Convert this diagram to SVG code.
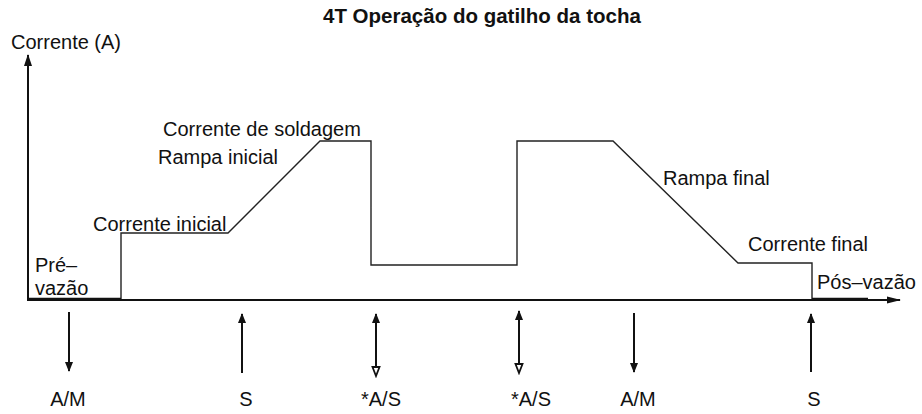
<svg xmlns="http://www.w3.org/2000/svg" width="922" height="414" viewBox="0 0 922 414">
  <defs>
    <marker id="ah" markerWidth="10" markerHeight="10" refX="9" refY="5" orient="auto-start-reverse" markerUnits="userSpaceOnUse">
      <path d="M0,1 L10,5 L0,9 Z" fill="#111"/>
    </marker>
    <marker id="aho" markerWidth="12" markerHeight="12" refX="10" refY="6" orient="auto" markerUnits="userSpaceOnUse">
      <path d="M1,2.5 L10,6 L1,9.5 Z" fill="#fff" stroke="#111" stroke-width="1.8"/>
    </marker>
    <marker id="axh" markerWidth="14" markerHeight="10" refX="13" refY="5" orient="auto" markerUnits="userSpaceOnUse">
      <path d="M0,1.5 L14,5 L0,8.5 Z" fill="#111"/>
    </marker>
    <marker id="ahup" markerWidth="12" markerHeight="10" refX="11" refY="5" orient="auto" markerUnits="userSpaceOnUse">
      <path d="M0,1 L12,5 L0,9 Z" fill="#111"/>
    </marker>
  </defs>
  <style>
    text { font-family: "Liberation Sans", Arial, sans-serif; font-size: 20px; fill: #111; }
    .title { font-weight: bold; font-size: 20.5px; }
    .lbl { text-anchor: middle; }
    .axis { stroke: #111; stroke-width: 2; fill: none; }
    .wave { stroke: #222; stroke-width: 1.4; fill: none; }
    .base { stroke: #111; stroke-width: 2.5; fill: none; }
    .trig { stroke: #111; stroke-width: 2; fill: none; }
  </style>
  <rect width="922" height="414" fill="#fff"/>

  <g id="title"><text class="title" x="323" y="23">4T Operação do gatilho da tocha</text></g>

  <g id="axes">
    <line class="axis" x1="28" y1="301" x2="28" y2="55" marker-end="url(#ahup)"/>
    <line class="axis" x1="27" y1="300" x2="900" y2="300" marker-end="url(#axh)"/>
    <text x="11" y="49">Corrente (A)</text>
  </g>

  <g id="waveform">
    <path class="wave" d="M121,299 V233 H228 L320,141 H371 V265 H517 V141 H613 L738,263 H812 V299"/>
    <line class="base" x1="28" y1="299" x2="121" y2="299"/>
    <line class="base" x1="812" y1="299" x2="868" y2="299"/>
  </g>

  <g id="labels">
    <text x="35" y="272">Pré–</text>
    <text x="35" y="295">vazão</text>
    <text x="93" y="231">Corrente inicial</text>
    <text x="158" y="164">Rampa inicial</text>
    <text x="163" y="136">Corrente de soldagem</text>
    <text x="663" y="185">Rampa final</text>
    <text x="748" y="251">Corrente final</text>
    <text x="817" y="289">Pós–vazão</text>
  </g>

  <g id="connectors">
    <line class="trig" x1="69" y1="312" x2="69" y2="371" marker-end="url(#ah)"/>
    <line class="trig" x1="242" y1="373" x2="242" y2="314" marker-end="url(#ah)"/>
    <line class="trig" x1="376" y1="314" x2="376" y2="376" marker-start="url(#ah)" marker-end="url(#aho)"/>
    <line class="trig" x1="519" y1="311" x2="519" y2="373" marker-start="url(#ah)" marker-end="url(#aho)"/>
    <line class="trig" x1="634" y1="313" x2="634" y2="372" marker-end="url(#ah)"/>
    <line class="trig" x1="811" y1="372" x2="811" y2="314" marker-end="url(#ah)"/>
  </g>

  <g id="triggers">
    <text class="lbl" x="68" y="406">A/M</text>
    <text class="lbl" x="246" y="406">S</text>
    <text class="lbl" x="381" y="406">*A/S</text>
    <text class="lbl" x="531" y="406">*A/S</text>
    <text class="lbl" x="638" y="406">A/M</text>
    <text class="lbl" x="814" y="406">S</text>
  </g>
</svg>
